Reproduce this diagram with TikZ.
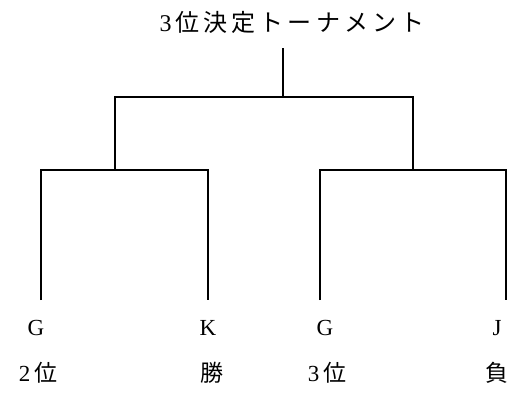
\documentclass[tikz,border=0pt]{standalone}
\usepackage{fontspec}
\setmainfont{Liberation Serif}
\newfontfamily\jp{Noto Sans CJK JP}
\newfontfamily\jpwide[LetterSpace=17]{Noto Sans CJK JP}

\begin{document}
\begin{tikzpicture}[x=1pt,y=-1pt,line width=1.2pt]
\useasboundingbox (0,0) rectangle (531,392);
\node (title) at (292,22) {\fontsize{24}{28}\selectfont 3\,\jpwide 位決定トーナメント};
\coordinate (root) at (283,48);
\coordinate (top) at (283,97);
\coordinate (lj) at (115,170);
\coordinate (rj) at (413,170);
\coordinate (a) at (41,300);
\coordinate (b) at (208,300);
\coordinate (c) at (320,300);
\coordinate (d) at (506,300);
\draw (root) -- (top);
\draw (lj) |- (top) -| (rj);
\draw (a) |- (lj) -| (b);
\draw (c) |- (rj) -| (d);
% teams
\node (ga) at (36,328) {\fontsize{23}{28}\selectfont G};
\node (kb) at (208,328) {\fontsize{23}{28}\selectfont K};
\node (gc) at (325,328) {\fontsize{23}{28}\selectfont G};
\node (jd) at (497,328) {\fontsize{23}{28}\selectfont J};
% results
\node (ra) at (38,373) {\fontsize{23}{28}\selectfont 2\,\jp 位};
\node (rb) at (212,373) {\fontsize{23}{28}\selectfont\jp 勝};
\node (rc) at (327,373) {\fontsize{23}{28}\selectfont 3\,\jp 位};
\node (rd) at (497,373) {\fontsize{23}{28}\selectfont\jp 負};
\end{tikzpicture}
\end{document}
